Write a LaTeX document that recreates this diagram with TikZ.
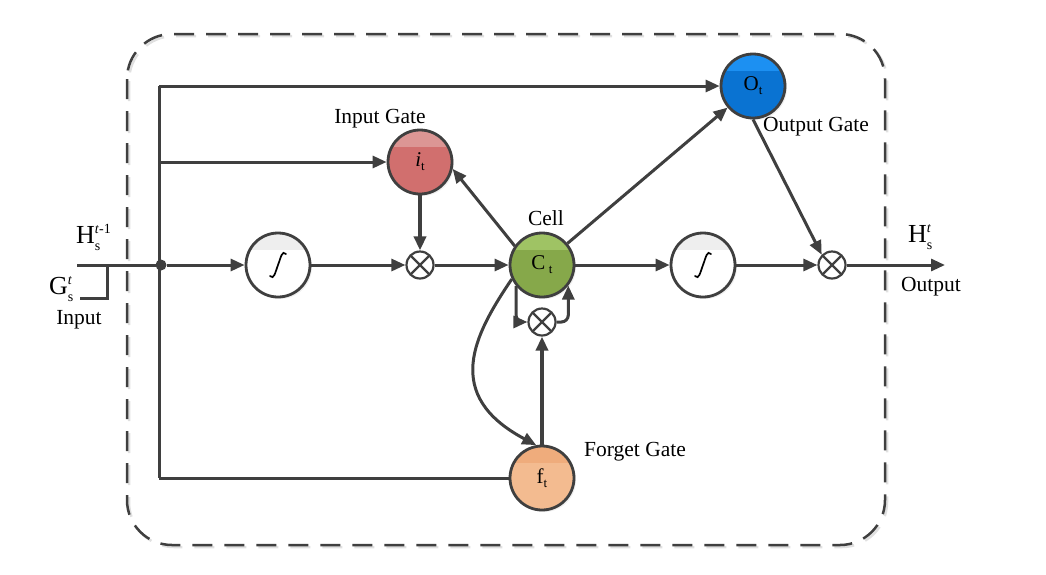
\documentclass[tikz,border=0pt]{standalone}
\usepackage{fontspec}
\setmainfont{Liberation Serif}
\usetikzlibrary{arrows.meta,shadows}
\definecolor{edge}{HTML}{3F3F3F}
\definecolor{cmain}{HTML}{86A84A}
\definecolor{ctop}{HTML}{9FC364}
\definecolor{imain}{HTML}{D16F6E}
\definecolor{itop}{HTML}{DC9694}
\definecolor{omain}{HTML}{0A73D2}
\definecolor{otop}{HTML}{1C90F2}
\definecolor{fmain}{HTML}{F3BB90}
\definecolor{ftop}{HTML}{EFAC7C}
\definecolor{smain}{HTML}{FFFFFF}
\definecolor{stop}{HTML}{EEEEEE}
\newcommand\lsub[1]{\raisebox{-4pt}{\fontsize{13}{14}\selectfont #1}}
\newcommand\bigsym[3]{#1\makebox[0pt][l]{\raisebox{-7pt}{\fontsize{14}{14}\selectfont #2}}\raisebox{10pt}{\fontsize{14}{14}\selectfont #3}}
\tikzset{
  gate/.style n args={2}{circle, minimum size=64pt, inner sep=0pt, draw=edge, line width=2.8pt,
    fill=#1, font=\fontsize{21}{24}\selectfont,
    drop shadow={shadow xshift=2pt, shadow yshift=-2pt, fill=black!12},
    path picture={\fill[#2] (path picture bounding box.north west) rectangle ([yshift=-17pt]path picture bounding box.north east);}},
  mult/.style={circle, minimum size=27pt, inner sep=0pt, draw=edge, line width=2.2pt, fill=white,
    path picture={\draw[edge, line width=2.2pt] (path picture bounding box.north west) -- (path picture bounding box.south east)
      (path picture bounding box.north east) -- (path picture bounding box.south west);}},
  wire/.style={draw=edge, line width=3pt},
  conn/.style={wire, -{Triangle[length=14pt,width=12pt]}},
  thick conn/.style={conn, line width=3.8pt},
  integ/.style={draw=black, line width=1.7pt, line cap=round},
  lbl/.style={font=\fontsize{21.5}{24}\selectfont, text=black, inner sep=0pt},
  jdot/.style={circle, fill=edge, minimum size=11pt, inner sep=0pt},
}
\begin{document}
\begin{tikzpicture}[x=1pt,y=-1pt]
\useasboundingbox (0,0) rectangle (1046,574);
% dashed frame with faint shadow
\draw[black!12, line width=2.5pt, dash pattern=on 20pt off 12pt, rounded corners=45pt] (129,36) rectangle (887,547);
\draw[edge, line width=2.5pt, dash pattern=on 20pt off 12pt, rounded corners=45pt] (127,34) rectangle (885,545);

% nodes
\node[gate={omain}{otop}] (O) at (753,86) {O\lsub{t}};
\node[gate={imain}{itop}] (I) at (420,162) {\textit{i}\lsub{t}};
\node[gate={cmain}{ctop}] (C) at (542,265) {C\,\lsub{t}};
\node[gate={fmain}{ftop}] (F) at (542,478) {f\lsub{t}};
\node[gate={smain}{stop}] (S1) at (278,265) {};
\node[gate={smain}{stop}] (S2) at (703,265) {};
\node[mult] (M1) at (420,265) {};
\node[mult] (M2) at (542,322) {};
\node[mult] (M3) at (832,265) {};

% integral signs
\foreach \s in {S1,S2}{
  \draw[integ] ([shift={(-8,11)}]\s.center) .. controls ([shift={(-4,15)}]\s.center) and ([shift={(-3,8)}]\s.center) .. ([shift={(0,0)}]\s.center)
     .. controls ([shift={(3,-8)}]\s.center) and ([shift={(4,-15)}]\s.center) .. ([shift={(8,-11)}]\s.center);
}

\coordinate (vtop) at (159,86);
\coordinate (vmid) at (159,162);
\coordinate (vbot) at (159,478);
\coordinate (hin) at (77,265);
\coordinate (gin) at (80,298);
\coordinate (gcorner) at (107,298);
\coordinate (gtop) at (107,265);
\coordinate (hout) at (945,265);

% connectors
\draw[wire] (vtop) -- (vbot);
\draw[wire] (hin) -- (161,265);
\draw[wire] (gin) -- (gcorner) -- (gtop);
\draw[conn] (vtop) -- (O);
\draw[conn] (vmid) -- (I);
\draw[wire] (vbot) -- (F);
\node[jdot] (J) at (161,265) {};
\draw[conn] (J) -- (S1);
\draw[conn] (S1) -- (M1);
\draw[thick conn] (I) -- (M1);
\draw[conn] (M1) -- (C);
\draw[conn] (C.145) -- (I.-12);
\draw[conn] (C) -- (O);
\draw[conn] (C) -- (S2);
\draw[conn] (S2) -- (M3);
\draw[conn] (O.south) -- (M3.135);
\draw[conn] (M3) -- (hout);
\draw[thick conn] (F) -- (M2);
\draw[conn] (C.205) .. controls (474,335) and (442,395) .. (F.100);
\draw[conn, rounded corners=7pt] (C.219) |- (M2.west);
\draw[conn, rounded corners=7pt] (M2.east) -| (C.322);

% labels
\node[lbl] (lin) at (380,119) {Input Gate};
\node[lbl] (lcell) at (546,218) {Cell};
\node[lbl] (lout) at (816,127) {Output Gate};
\node[lbl] (lforget) at (635,452) {Forget Gate};
\node[lbl, anchor=west, font=\fontsize{26}{28}\selectfont] (hprev) at (76,237) {\bigsym{H}{s}{\textit{t}-1}};
\node[lbl, anchor=west, font=\fontsize{26}{28}\selectfont] (gcur) at (49,289) {\bigsym{G}{s}{\textit{t}}};
\node[lbl] (linput) at (79,320) {Input};
\node[lbl, anchor=west, font=\fontsize{26}{28}\selectfont] (hcur) at (908,237) {\bigsym{H}{s}{\textit{t}}};
\node[lbl] (loutput) at (931,287) {Output};
\end{tikzpicture}
\end{document}
